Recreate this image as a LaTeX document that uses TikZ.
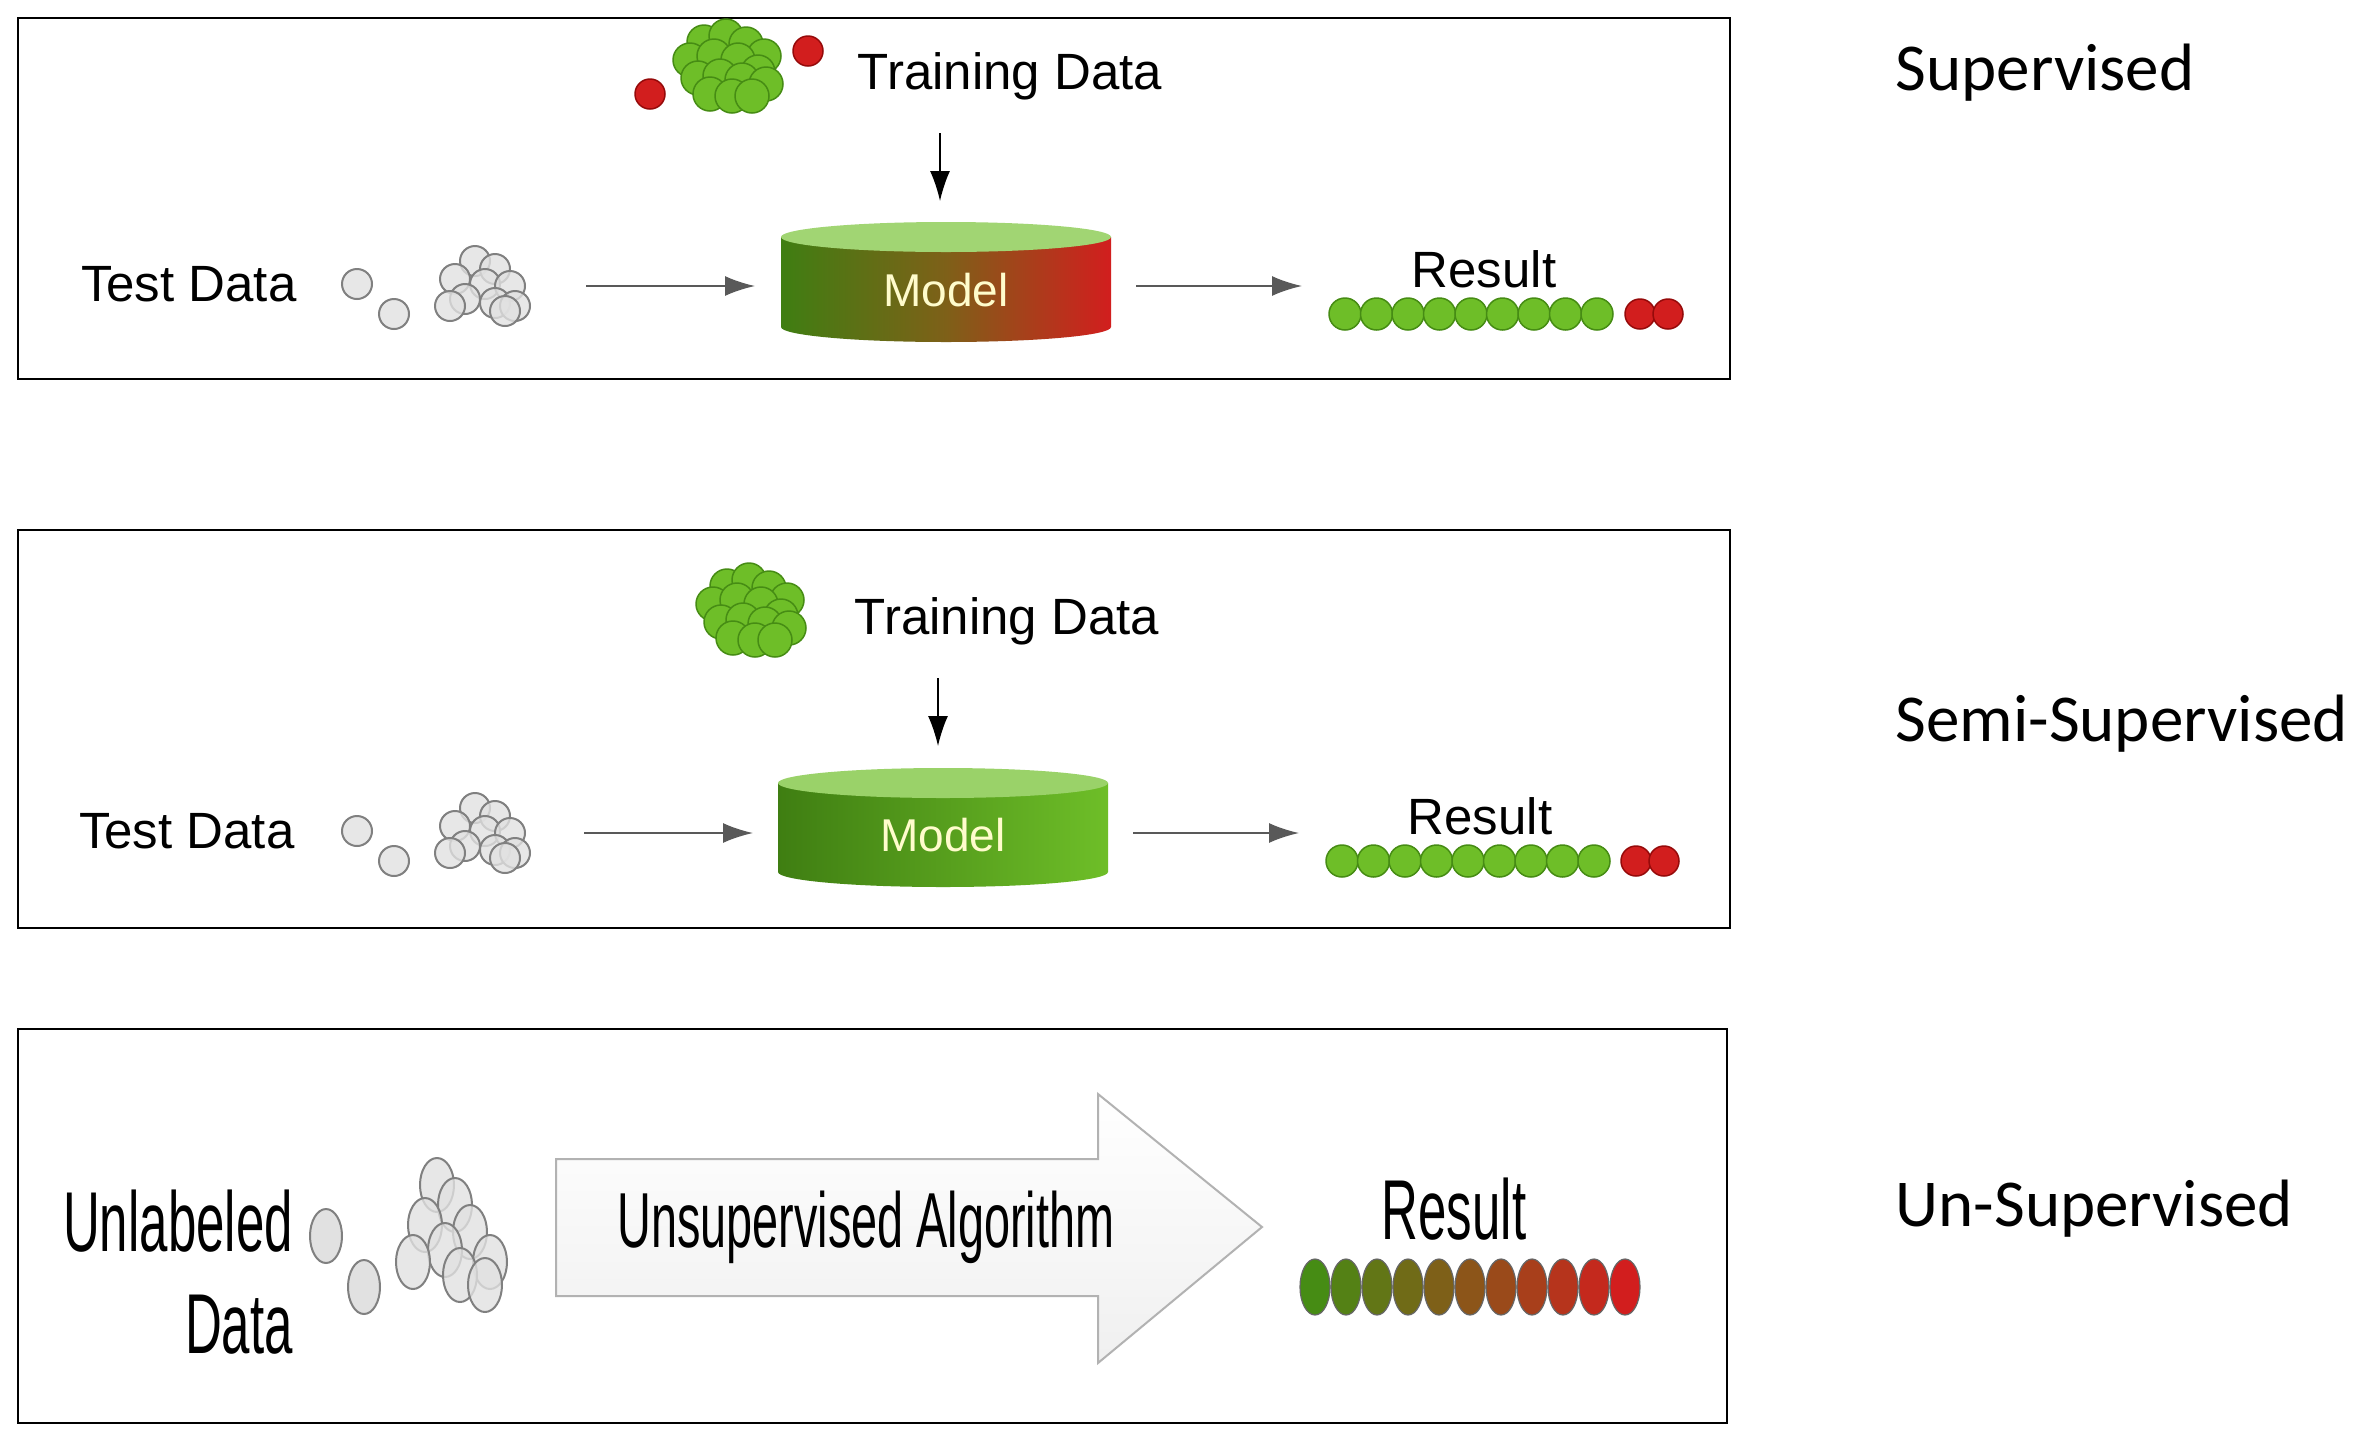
\documentclass[tikz,border=0pt]{standalone}
\usepackage{fontspec}
\setmainfont{Liberation Sans}
\newfontfamily\sidefont{Carlito}
\usetikzlibrary{arrows.meta}
\definecolor{gA}{RGB}{110,190,40}
\definecolor{gB}{RGB}{70,140,20}
\definecolor{rA}{RGB}{210,30,30}
\definecolor{rB}{RGB}{150,10,10}
\definecolor{gr}{RGB}{225,225,225}
\tikzset{
 frame/.style={draw=black,line width=2.5pt},
 side/.style={font=\sidefont\fontsize{67}{72}\selectfont,anchor=west},
 lbl/.style={font=\fontsize{51}{56}\selectfont},
 big/.style={font=\fontsize{85}{90}\selectfont,xscale=0.6},
 arr/.style={draw=gray!70!black,line width=2pt,-{Latex[length=30pt,width=20pt]}},
 gdot/.style={circle,draw=gB,line width=1.5pt,fill=gA,minimum size=32pt,inner sep=0},
 cdot/.style={circle,draw=gB,line width=1.5pt,fill=gA,minimum size=34pt,inner sep=0},
 rdot/.style={circle,draw=rB,line width=1.5pt,fill=rA,minimum size=30pt,inner sep=0},
 gydot/.style={circle,draw=gray,line width=2pt,fill=gr,fill opacity=0.8,minimum size=30pt,inner sep=0},
}
\newcommand{\greyset}[2]{%
 \begin{scope}[shift={(#1,#2)}]
  \node[gydot] at (-123,3) {}; \node[gydot] at (-86,33) {};
  \foreach \p in {(-5,-20),(15,-12),(-25,-2),(5,3),(30,5),(-15,18),(15,22),(35,25),(-30,25),(25,30)}
   \node[gydot] at \p {};
 \end{scope}}
\newcommand{\greenclus}[2]{%
 \begin{scope}[shift={(#1,#2)}]
  \foreach \p in {(-20,-24),(2,-30),(22,-22),(40,-10),(-34,-6),(-10,-10),(14,-6),(34,6),(-26,12),(-4,10),(18,14),(42,18),(-14,28),(8,30),(28,30)}
   \node[cdot] at \p {};
 \end{scope}}
\begin{document}
\begin{tikzpicture}[x=1pt,y=-1pt]
\useasboundingbox[fill=white] (0,0) rectangle (2369,1441);
% frames
\draw[frame] (18,18) rectangle (1730,379);
\draw[frame] (18,530) rectangle (1730,928);
\draw[frame] (18,1029) rectangle (1727,1423);
\node[side] (s1) at (1892,73) {Supervised};
\node[side] (s2) at (1892,724) {Semi-Supervised};
\node[side] (s3) at (1892,1209) {Un-Supervised};

% ---------- box 1
\greenclus{724}{66}
\node[rdot] at (650,94) {}; \node[rdot] at (808,51) {};
\node[lbl] (td1) at (1010,76) {Training Data};
\coordinate (a1) at (940,133);
\shade[left color=gB!90!black, right color=rA, middle color=gB!60!rA]
  (781,237) -- (781,327) arc[start angle=180,end angle=0,x radius=165,y radius=15] -- (1111,237) -- cycle;
\fill[gA!65!white] (946,237) ellipse[x radius=165,y radius=15];
\node[font=\fontsize{46}{50}\selectfont,text=yellow!20!white] (m1) at (946,290) {Model};
\draw[arr,draw=black,line width=1.5pt] (a1) -- (940,201);
\node[lbl,anchor=east] (t1) at (300,284) {Test Data};
\greyset{480}{281}
\coordinate (i1) at (586,286);
\draw[arr] (i1) -- (755,286);
\draw[arr] (1136,286) -- (1302,286);
\node[lbl] (r1) at (1484,269) {Result};
\foreach \i in {0,...,8} \node[gdot] at (1345+\i*31.5,314) {};
\node[rdot] at (1640,314) {}; \node[rdot] at (1668,314) {};

% ---------- box 2
\greenclus{747}{610}
\node[lbl] (td2) at (1007,621) {Training Data};
\coordinate (a2) at (938,678);
\draw[arr,draw=black,line width=1.5pt] (a2) -- (938,746);
\shade[left color=gB!90!black, right color=gA]
  (778,783) -- (778,872) arc[start angle=180,end angle=0,x radius=165,y radius=15] -- (1108,783) -- cycle;
\fill[gA!70!white] (943,783) ellipse[x radius=165,y radius=15];
\node[font=\fontsize{46}{50}\selectfont,text=yellow!20!white] (m2) at (943,835) {Model};
\node[lbl,anchor=east] (t2) at (298,831) {Test Data};
\greyset{480}{828}
\draw[arr] (584,833) -- (753,833);
\draw[arr] (1133,833) -- (1299,833);
\node[lbl] (r2) at (1480,816) {Result};
\foreach \i in {0,...,8} \node[gdot] at (1342+\i*31.5,861) {};
\node[rdot] at (1636,861) {}; \node[rdot] at (1664,861) {};

% ---------- box 3
\node[big] (u1) at (178,1221) {Unlabeled};
\node[big] (u2) at (239,1325) {Data};
\begin{scope}[line width=2pt,draw=gray,fill=gr]
 \filldraw (326,1236) ellipse[x radius=16,y radius=27];
 \filldraw (364,1287) ellipse[x radius=16,y radius=27];
 \foreach \p in {(437,1185),(455,1205),(425,1225),(470,1232),(445,1250),(413,1262),(490,1262),(460,1275),(485,1285)}
  \filldraw[fill opacity=0.8] \p ellipse[x radius=17,y radius=27];
\end{scope}
\shade[top color=white, bottom color=gray!12, draw=gray!60, line width=2pt]
 (556,1159) -- (1098,1159) -- (1098,1094) -- (1262,1227) -- (1098,1363) -- (1098,1296) -- (556,1296) -- cycle;
\node[font=\fontsize{78}{80}\selectfont,xscale=0.6] (alg) at (866,1227) {Unsupervised Algorithm};
\node[big] (r3) at (1454,1209) {Result};
\foreach \i in {0,...,10}{
 \pgfmathsetmacro{\rr}{int(100*\i/10)}
 \filldraw[draw=black!60,line width=1.2pt,fill=rA!\rr!gB] (1315+\i*31,1287) ellipse[x radius=15,y radius=28];
}
\end{tikzpicture}
\end{document}
